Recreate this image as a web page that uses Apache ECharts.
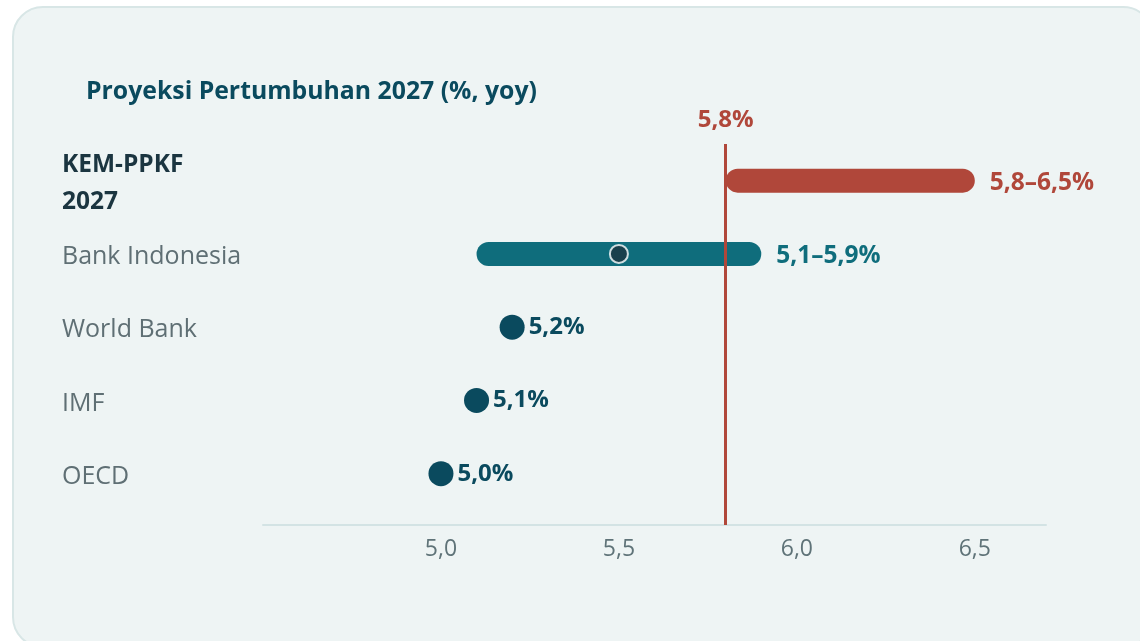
<!DOCTYPE html>
<html>
<head>
<meta charset="utf-8">
<script src="https://cdn.jsdelivr.net/npm/echarts@6/dist/echarts.min.js"></script>
<style>
  html, body { margin: 0; padding: 0; background: #ffffff; }
  #chart { width: 1140px; height: 641px; }
</style>
</head>
<body>
<div id="chart"></div>
<script>
// data
const rowNames = ['KEM-PPKF\n2027', 'Bank Indonesia', 'World Bank', 'IMF', 'OECD'];
const rangeRows = [0, 1];
const rangeLow = [5.8, 5.1];
const rangeHigh = [6.5, 5.9];
const rangeLabels = ['5,8–6,5%', '5,1–5,9%'];
const pointRows = [2, 3, 4];
const pointValues = [5.2, 5.1, 5.0];
const pointLabels = ['5,2%', '5,1%', '5,0%'];
const midRow = 1;
const midValue = 5.5;
const kemLine = 5.8;
const kemLineLabel = '5,8%';
const xTicks = [5.0, 5.5, 6.0, 6.5];

const FONT = 'Open Sans';
const RED = '#b0473a';
const TEAL = '#0f6d7c';
const NAVY = '#0a4a5e';
const rangeColors = [RED, TEAL];

const chart = echarts.init(document.getElementById('chart'));

const option = {
  animation: false,
  textStyle: { fontFamily: FONT },
  graphic: [{
    type: 'rect', z: -10, silent: true,
    shape: { x: 13, y: 7, width: 1140, height: 640, r: 30 },
    style: { fill: '#eef4f4', stroke: '#d8e6e6', lineWidth: 2 }
  }],
  title: {
    text: 'Proyeksi Pertumbuhan 2027 (%, yoy)',
    left: 81, top: 74,
    textStyle: { fontFamily: FONT, fontSize: 24.8, fontWeight: 'bold', color: NAVY }
  },
  grid: { left: 263, top: 144, width: 783, height: 381 },
  xAxis: {
    type: 'value', min: 4.5, max: 6.7,
    axisLine: { show: true, onZero: false, lineStyle: { color: '#d3e3e4', width: 2 } },
    axisTick: { show: false },
    splitLine: { show: false },
    axisLabel: {
      customValues: xTicks, margin: 13,
      color: '#5f7378', fontSize: 23, fontFamily: FONT,
      formatter: v => v.toFixed(1).replace('.', ',')
    }
  },
  yAxis: {
    type: 'value', min: -0.5, max: 4.7, inverse: true,
    axisLine: { show: false }, axisTick: { show: false }, splitLine: { show: false },
    axisLabel: {
      customValues: [0, 1, 2, 3, 4],
      align: 'left', margin: 201,
      padding: [6, 0, 0, 0],
      color: '#5f6f74', fontSize: 25, fontFamily: FONT,
      formatter: v => v === 0
        ? rowNames[0].split('\n').map(s => '{b|' + s + '}').join('\n')
        : rowNames[v],
      rich: {
        b: { fontWeight: 'bold', color: '#1b3540', fontSize: 24.5, lineHeight: 37, fontFamily: FONT }
      }
    }
  },
  series: [
    {
      type: 'line', data: [], z: 1,
      markLine: {
        silent: true, symbol: 'none',
        lineStyle: { color: RED, width: 3, type: 'solid' },
        label: {
          position: 'start', distance: 12, formatter: kemLineLabel,
          color: RED, fontWeight: 'bold', fontSize: 24, fontFamily: FONT
        },
        data: [{ xAxis: kemLine }]
      }
    },
    {
      type: 'custom', z: 3,
      data: rangeRows.map((r, i) => [rangeLow[i], rangeHigh[i], r, i]),
      renderItem: (params, api) => {
        const i = api.value(3);
        const a = api.coord([api.value(0), api.value(2)]);
        const b = api.coord([api.value(1), api.value(2)]);
        const h = 24;
        return {
          type: 'group',
          children: [
            { type: 'rect', shape: { x: a[0], y: a[1] - h / 2, width: b[0] - a[0], height: h, r: h / 2 },
              style: { fill: rangeColors[i] } },
            { type: 'text', style: { text: rangeLabels[i], x: b[0] + 15, y: b[1] + 2, verticalAlign: 'middle',
              fill: rangeColors[i], font: 'bold 24.5px "' + FONT + '"' } }
          ]
        };
      }
    },
    {
      type: 'scatter', z: 4,
      data: [[midValue, midRow]],
      symbolSize: 18,
      itemStyle: { color: '#1b3440', borderColor: '#ffffff', borderWidth: 2 }
    },
    {
      type: 'scatter', z: 4,
      data: pointRows.map((r, i) => [pointValues[i], r, pointLabels[i]]),
      symbolSize: 25,
      itemStyle: { color: NAVY, opacity: 1 },
      label: {
        show: true, position: 'right', distance: 4,
        padding: [4, 0, 0, 0],
        formatter: p => p.value[2],
        color: NAVY, fontWeight: 'bold', fontSize: 24, fontFamily: FONT
      }
    }
  ]
};

chart.setOption(option);
</script>
</body>
</html>
